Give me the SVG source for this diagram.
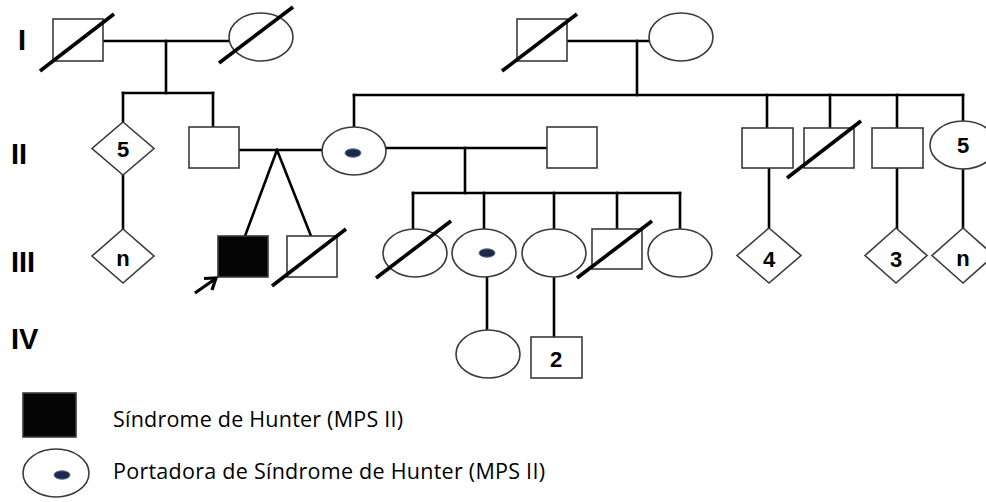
<svg xmlns="http://www.w3.org/2000/svg" width="986" height="502" viewBox="0 0 986 502">
<defs>
<style>
.n{fill:#fff;stroke:#3a3a3a;stroke-width:1.6}
.a{fill:#050505;stroke:#3a3a3a;stroke-width:1.6}
.l{fill:none;stroke:#000;stroke-width:2.6;stroke-linecap:square}
.s{fill:none;stroke:#000;stroke-width:3.6;stroke-linecap:butt}
.dot{fill:#1b2a4c;stroke:#5a6f92;stroke-width:1}
.gen{font-family:"Liberation Sans",Arial,sans-serif;font-weight:bold;font-size:29px;fill:#000}
.num{font-family:"Liberation Sans",Arial,sans-serif;font-weight:bold;font-size:22px;fill:#000;text-anchor:middle}
.leg{font-family:"Open Sans","Liberation Sans",sans-serif;font-size:21.5px;fill:#000}
.arr{fill:none;stroke:#000;stroke-width:3.2;stroke-linecap:butt;stroke-linejoin:miter}
</style>
</defs>
<rect width="986" height="502" fill="#fff"/>

<g id="generations">
<text class="gen" x="18" y="50">I</text>
<text class="gen" x="11" y="164">II</text>
<text class="gen" x="11" y="272">III</text>
<text class="gen" x="11" y="349">IV</text>
</g>

<g id="connectors">
<path class="l" d="M103,41H229"/>
<path class="l" d="M166,41V93"/>
<path class="l" d="M123,93H213"/>
<path class="l" d="M123,93V122"/>
<path class="l" d="M213,93V127"/>
<path class="l" d="M567,41H649"/>
<path class="l" d="M637,41V95"/>
<path class="l" d="M354,95H963"/>
<path class="l" d="M354,95V127"/>
<path class="l" d="M767,95V128"/>
<path class="l" d="M830,95V128"/>
<path class="l" d="M897,95V128"/>
<path class="l" d="M963,95V121"/>
<path class="l" d="M123,175V229"/>
<path class="l" d="M239,150H322"/>
<path class="l" d="M277,150L245,236"/>
<path class="l" d="M277,150L311,236"/>
<path class="l" d="M387,148H547"/>
<path class="l" d="M465,148V193"/>
<path class="l" d="M413,193H680"/>
<path class="l" d="M413,193V229"/>
<path class="l" d="M484,193V229"/>
<path class="l" d="M554,193V229"/>
<path class="l" d="M617,193V229"/>
<path class="l" d="M680,193V229"/>
<path class="l" d="M769,168V228"/>
<path class="l" d="M897,168V228"/>
<path class="l" d="M963,168V228"/>
<path class="l" d="M487,277V330"/>
<path class="l" d="M554,277V337"/>
</g>

<g id="I-1"><rect class="n" x="53" y="19" width="50" height="42"/><path class="s" d="M40,71L114,14"/></g>
<g id="I-2"><ellipse class="n" cx="261" cy="37" rx="32" ry="24"/><path class="s" d="M219,63L293,7"/></g>
<g id="I-3"><rect class="n" x="517" y="19" width="50" height="42"/><path class="s" d="M502,71L577,14"/></g>
<g id="I-4"><ellipse class="n" cx="681" cy="37" rx="32" ry="24"/></g>

<g id="II-1"><path class="n" d="M123,122L154,148.5L123,175L92,148.5Z"/><text class="num" x="123" y="157">5</text></g>
<g id="II-2"><rect class="n" x="189" y="127" width="50" height="41"/></g>
<g id="II-3"><ellipse class="n" cx="354" cy="151" rx="32" ry="24"/><ellipse class="dot" cx="353" cy="153" rx="8" ry="4.2"/></g>
<g id="II-4"><rect class="n" x="547" y="127" width="50" height="41"/></g>
<g id="II-5"><rect class="n" x="742" y="128" width="51" height="40"/></g>
<g id="II-6"><rect class="n" x="804" y="128" width="50" height="40"/><path class="s" d="M787,178L861,121"/></g>
<g id="II-7"><rect class="n" x="872" y="128" width="51" height="40"/></g>
<g id="II-8"><ellipse class="n" cx="963" cy="145" rx="33" ry="24"/><text class="num" x="963" y="153">5</text></g>

<g id="III-1"><path class="n" d="M123,229L154,256L123,283L92,256Z"/><text class="num" x="123" y="266">n</text></g>
<g id="III-2"><rect class="a" x="218" y="236" width="50" height="41"/></g>
<g id="III-3"><rect class="n" x="287" y="236" width="50" height="41"/><path class="s" d="M272,286L346,229"/></g>
<g id="III-4"><ellipse class="n" cx="415" cy="253" rx="32" ry="24"/><path class="s" d="M376,278L451,221"/></g>
<g id="III-5"><ellipse class="n" cx="484" cy="253" rx="32" ry="24"/><ellipse class="dot" cx="487" cy="253" rx="8" ry="4.2"/></g>
<g id="III-6"><ellipse class="n" cx="554" cy="253" rx="32" ry="24"/></g>
<g id="III-7"><rect class="n" x="592" y="229" width="50" height="40"/><path class="s" d="M577,278L652,221"/></g>
<g id="III-8"><ellipse class="n" cx="680" cy="253" rx="32" ry="24"/></g>
<g id="III-9"><path class="n" d="M769,228L801,255.5L769,283L737,255.5Z"/><text class="num" x="769" y="267">4</text></g>
<g id="III-10"><path class="n" d="M896,228L927,255.5L896,283L865,255.5Z"/><text class="num" x="896" y="267">3</text></g>
<g id="III-11"><path class="n" d="M963,228L994,255.5L963,283L932,255.5Z"/><text class="num" x="963" y="266">n</text></g>

<g id="proband-arrow"><path class="arr" d="M195,293L215,279"/><path class="arr" d="M204,278.5L216,278L212,290"/></g>

<g id="IV-1"><ellipse class="n" cx="488" cy="354" rx="32" ry="24"/></g>
<g id="IV-2"><rect class="n" x="531" y="337" width="51" height="41"/><text class="num" x="556" y="367">2</text></g>

<g id="legend">
<rect class="a" x="23" y="393" width="53" height="44"/>
<text class="leg" x="113" y="427" textLength="290" lengthAdjust="spacing">Síndrome de Hunter (MPS II)</text>
<ellipse class="n" cx="56" cy="473" rx="33" ry="24"/>
<ellipse class="dot" cx="62" cy="475" rx="8" ry="4.2"/>
<text class="leg" x="113" y="479" textLength="432" lengthAdjust="spacing">Portadora de Síndrome de Hunter (MPS II)</text>
</g>
</svg>
